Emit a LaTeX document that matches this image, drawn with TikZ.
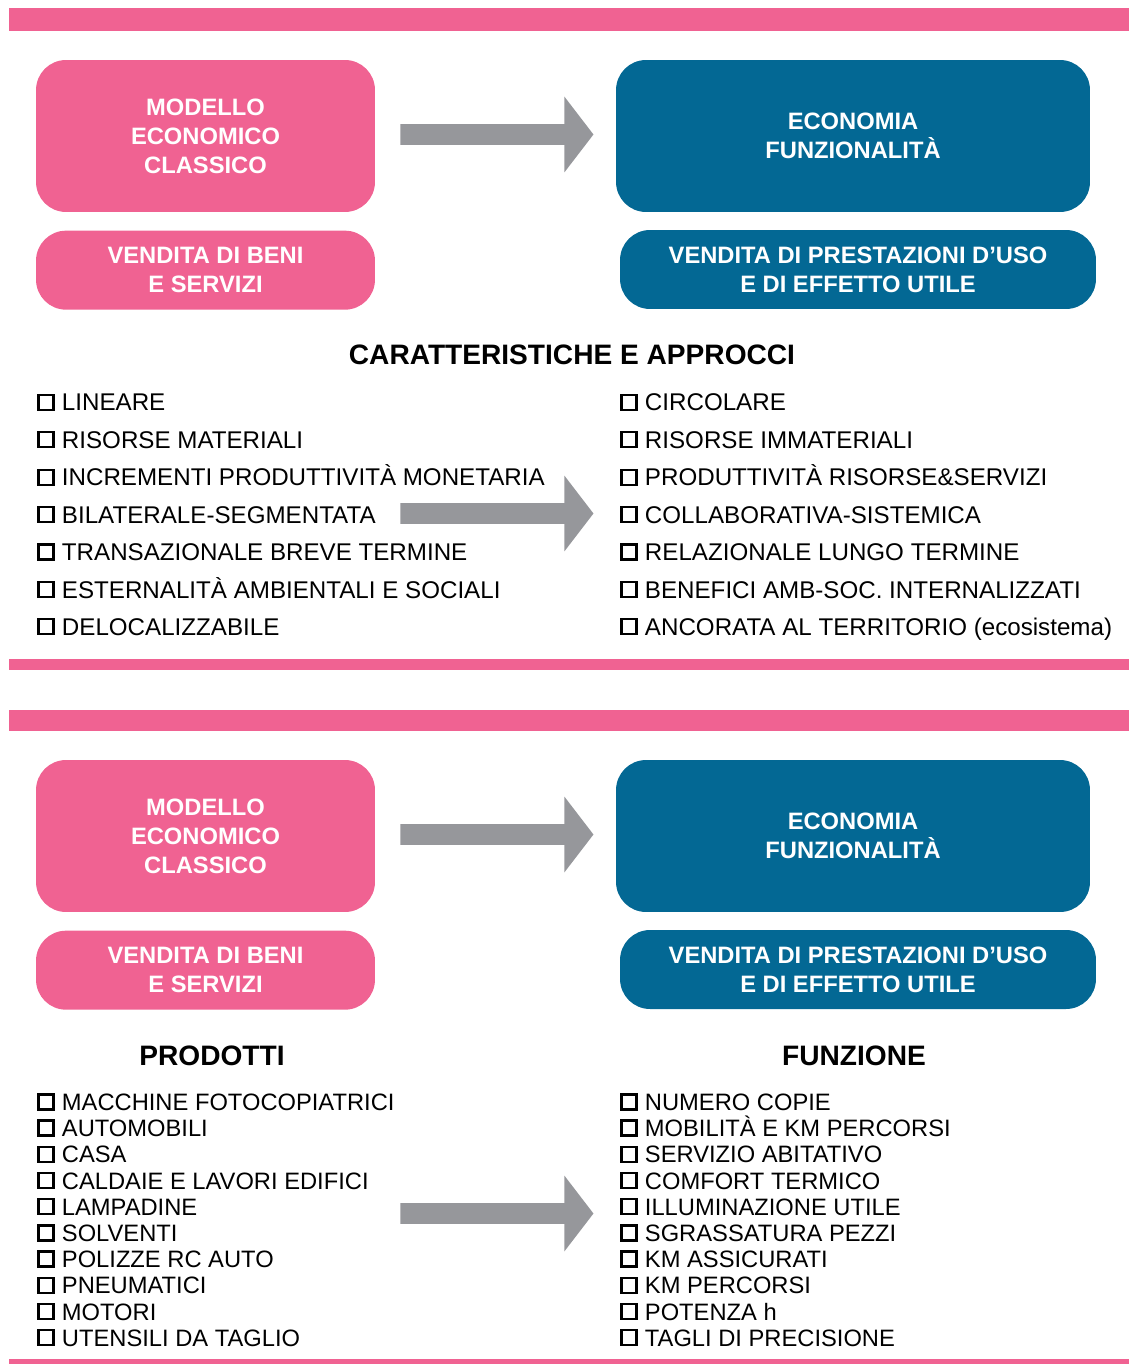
\documentclass[tikz,border=0pt]{standalone}
\usepackage{fontspec}
\setmainfont{Liberation Sans}
\usepackage{tikz}
\usetikzlibrary{shapes.arrows,positioning}
\definecolor{rosa}{RGB}{240,98,146}
\definecolor{blu}{RGB}{3,104,148}
\definecolor{grigio}{RGB}{150,151,155}
\newcommand{\casella}{{\setlength{\fboxsep}{0pt}\setlength{\fboxrule}{1.3pt}\raisebox{1.3pt}{\fbox{\phantom{\rule{7.2pt}{7.2pt}}}}}\hspace{4.2pt}}
\tikzset
{
    boxrosa/.style  = {rounded corners=0.6cm, fill=rosa, text=white, align=center, inner sep=0pt, minimum width=6.78cm, font=\bfseries\fontsize{13.5}{16.5}\selectfont},
    boxblu/.style   = {rounded corners=0.6cm, fill=blu, text=white, align=center, inner sep=0pt, font=\bfseries\fontsize{13.5}{16.5}\selectfont},
    freccia/.style  = {single arrow, fill=grigio, inner sep=0pt, text height=0.2cm, text depth=0.2cm, minimum height=3.86cm, single arrow head extend=0.55cm, single arrow tip angle=105},
    voce/.style     = {anchor=base west, inner sep=0pt, font=\fontsize{13.75}{16}\selectfont},
    voce2/.style    = {voce, font=\fontsize{13.5}{16}\selectfont},
    titolo/.style   = {anchor=base, inner sep=0pt, font=\bfseries\fontsize{16}{19}\selectfont}
}
\begin{document}
\begin{tikzpicture}[x=0.02cm, y=-0.02cm]
    \useasboundingbox (0,0) rectangle (1129,1364);
    % fasce rosa
    \fill[rosa] (9,8) rectangle (1129,31);
    \fill[rosa] (9,659) rectangle (1129,670);
    \fill[rosa] (9,710) rectangle (1129,731);
    \fill[rosa] (9,1359) rectangle (1129,1364);

    % prima parte
    \node [boxrosa, minimum height=3.04cm] (modello) at (205.5,136) {MODELLO\\ECONOMICO\\CLASSICO};
    \node [boxrosa, minimum height=1.58cm, below=0.36cm of modello] (vendita) {VENDITA DI BENI\\E SERVIZI};
    \node [boxblu, minimum width=9.48cm, minimum height=3.04cm] (economia) at (853,136) {ECONOMIA\\FUNZIONALITÀ};
    \node [boxblu, minimum width=9.52cm, minimum height=1.58cm] (prestazioni) at (858,269.5) {VENDITA DI PRESTAZIONI D’USO\\E DI EFFETTO UTILE};
    \node [freccia] (frecciaA) at (493,134.5) {};

    \node [titolo] (caratt) at (572,365) {CARATTERISTICHE E APPROCCI};

    \node [voce] (lin) at (37,411) {\casella LINEARE};
    \node [voce] (mat) at (37,448.4) {\casella RISORSE MATERIALI};
    \node [voce] (inc) at (37,485.8) {\casella INCREMENTI PRODUTTIVITÀ MONETARIA};
    \node [voce] (bil) at (37,523.2) {\casella BILATERALE-SEGMENTATA};
    \node [voce] (tra) at (37,560.6) {\casella TRANSAZIONALE BREVE TERMINE};
    \node [voce] (est) at (37,598) {\casella ESTERNALITÀ AMBIENTALI E SOCIALI};
    \node [voce] (del) at (37,635.4) {\casella DELOCALIZZABILE};

    \node [voce] (cir) at (620,411) {\casella CIRCOLARE};
    \node [voce] (imm) at (620,448.4) {\casella RISORSE IMMATERIALI};
    \node [voce] (pro) at (620,485.8) {\casella PRODUTTIVITÀ RISORSE\&SERVIZI};
    \node [voce] (col) at (620,523.2) {\casella COLLABORATIVA-SISTEMICA};
    \node [voce] (rel) at (620,560.6) {\casella RELAZIONALE LUNGO TERMINE};
    \node [voce] (ben) at (620,598) {\casella BENEFICI AMB-SOC. INTERNALIZZATI};
    \node [voce] (anc) at (620,635.4) {\casella ANCORATA AL TERRITORIO (ecosistema)};

    \node [freccia] (frecciaB) at (493,513.5) {};

    % seconda parte
    \node [boxrosa, minimum height=3.04cm] (modello2) at (205.5,836) {MODELLO\\ECONOMICO\\CLASSICO};
    \node [boxrosa, minimum height=1.58cm, below=0.36cm of modello2] (vendita2) {VENDITA DI BENI\\E SERVIZI};
    \node [boxblu, minimum width=9.48cm, minimum height=3.04cm] (economia2) at (853,836) {ECONOMIA\\FUNZIONALITÀ};
    \node [boxblu, minimum width=9.52cm, minimum height=1.58cm] (prestazioni2) at (858,969.5) {VENDITA DI PRESTAZIONI D’USO\\E DI EFFETTO UTILE};
    \node [freccia] (frecciaC) at (493,834.5) {};

    \node [titolo] (prodotti) at (212,1065) {PRODOTTI};
    \node [titolo] (funzione) at (854,1065) {FUNZIONE};

    \node [voce2] (fot) at (37,1110.5) {\casella MACCHINE FOTOCOPIATRICI};
    \node [voce2] (aut) at (37,1136.7) {\casella AUTOMOBILI};
    \node [voce2] (cas) at (37,1162.9) {\casella CASA};
    \node [voce2] (cal) at (37,1189.1) {\casella CALDAIE E LAVORI EDIFICI};
    \node [voce2] (lam) at (37,1215.3) {\casella LAMPADINE};
    \node [voce2] (sol) at (37,1241.5) {\casella SOLVENTI};
    \node [voce2] (pol) at (37,1267.7) {\casella POLIZZE RC AUTO};
    \node [voce2] (pne) at (37,1293.9) {\casella PNEUMATICI};
    \node [voce2] (mot) at (37,1320.1) {\casella MOTORI};
    \node [voce2] (ute) at (37,1346.3) {\casella UTENSILI DA TAGLIO};

    \node [voce2] (cop) at (620,1110.5) {\casella NUMERO COPIE};
    \node [voce2] (mob) at (620,1136.7) {\casella MOBILITÀ E KM PERCORSI};
    \node [voce2] (abi) at (620,1162.9) {\casella SERVIZIO ABITATIVO};
    \node [voce2] (com) at (620,1189.1) {\casella COMFORT TERMICO};
    \node [voce2] (ill) at (620,1215.3) {\casella ILLUMINAZIONE UTILE};
    \node [voce2] (sgr) at (620,1241.5) {\casella SGRASSATURA PEZZI};
    \node [voce2] (ass) at (620,1267.7) {\casella KM ASSICURATI};
    \node [voce2] (per) at (620,1293.9) {\casella KM PERCORSI};
    \node [voce2] (pot) at (620,1320.1) {\casella POTENZA h};
    \node [voce2] (tag) at (620,1346.3) {\casella TAGLI DI PRECISIONE};

    \node [freccia] (frecciaD) at (493,1213.5) {};
\end{tikzpicture}
\end{document}
